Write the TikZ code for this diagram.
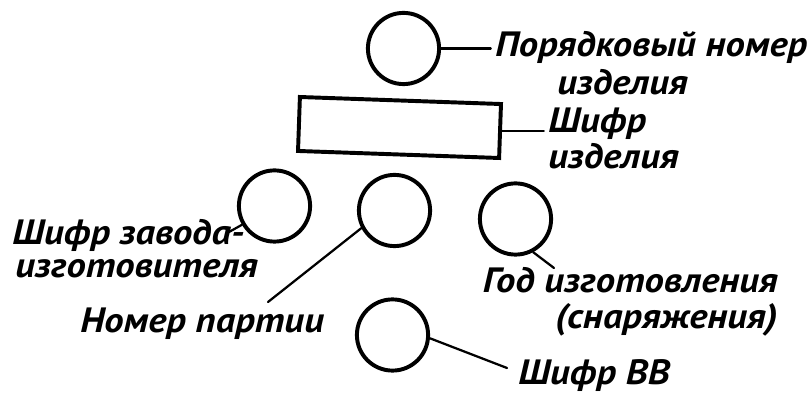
\documentclass[tikz,border=0pt]{standalone}
\usepackage{fontspec}
\setmainfont{PT Sans}
\newfontfamily\markfont{PT Sans}[FakeStretch=1.1]
\usetikzlibrary{positioning}

\begin{document}
\begin{tikzpicture}[every node/.style={font=\markfont\bfseries\itshape\fontsize{25}{29}\selectfont},
                    markcircle/.style={draw,circle,line width=2.8pt,minimum size=1.78cm,inner sep=0pt},
                    marklabel/.style={inner sep=0pt},
                    leader/.style={line width=1.6pt,line cap=round}]
  \useasboundingbox (0,0) rectangle (20.275,10.025);

  % --- marking fields ------------------------------------------------------
  \node[markcircle] (ord)   at (10.0875,8.8125) {};
  \node[draw,line width=2.8pt,minimum width=5.03cm,minimum height=1.35cm,rotate=-2]
        (code) at (9.9875,6.8375) {};
  \node[markcircle] (plant) at (6.8625,4.875) {};
  \node[markcircle] (batch) at (9.8625,4.7625) {};
  \node[markcircle] (year)  at (12.8875,4.55) {};
  \node[markcircle] (expl)  at (9.8125,1.65) {};

  % --- labels --------------------------------------------------------------
  \node[marklabel,anchor=base west] (ordtxt)    at (12.375,8.6)   {Порядковый номер};
  \node[marklabel,anchor=base west] (ordtxtb)   at (13.925,7.65)  {изделия};
  \node[marklabel,anchor=base west] (codetxt)   at (13.7,6.72)    {Шифр};
  \node[marklabel,anchor=base west] (codetxtb)  at (13.7,5.82)    {изделия};
  \node[marklabel,anchor=base west] (planttxt)  at (0.3,3.9)      {Шифр завода-};
  \node[marklabel,anchor=base west] (planttxtb) at (0.375,3.075)  {изготовителя};
  \node[marklabel,anchor=base west] (batchtxt)  at (2.0,1.7)      {Номер партии};
  \node[marklabel,anchor=base east] (yeartxt)   at (19.45,2.72)   {Год изготовления};
  \node[marklabel,anchor=base east] (yeartxtb)  at (19.45,1.8)    {(снаряжения)};
  \node[marklabel,anchor=base west] (expltxt)   at (12.95,0.4)    {Шифр ВВ};

  % --- leaders -------------------------------------------------------------
  \coordinate (plantend) at (5.725,4.225);
  \coordinate (batchend) at (6.7,2.475);
  \coordinate (yearend)  at (13.85,3.325);
  \coordinate (explend)  at (12.675,0.825);
  \draw[leader] (ord.east) -- ([xshift=-3pt]ord.east -| ordtxt.west);
  \draw[leader] (code.east) -- ([xshift=-3pt]code.east -| codetxt.west);
  \draw[leader] (plant.210) -- (plantend);
  \draw[leader] (batch.208) -- (batchend);
  \draw[leader] (year.298) -- (yearend);
  \draw[leader] (expl.355) -- (explend);
\end{tikzpicture}
\end{document}
